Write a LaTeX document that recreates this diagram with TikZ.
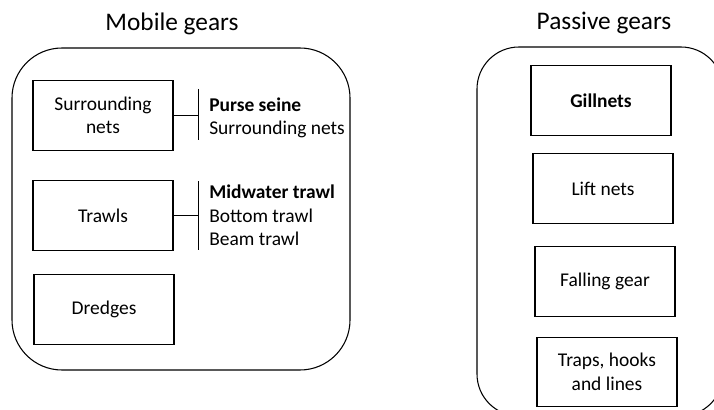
\documentclass[tikz,border=0pt]{standalone}
\usepackage{fontspec}
\setmainfont{Carlito}
\usetikzlibrary{positioning}

\tikzset{
  panel/.style={draw, line width=0.8pt, rounded corners=#1},
  gearbox/.style={draw, line width=0.95pt, minimum width=105pt, minimum height=52pt,
    align=center, inner sep=2pt, font=\fontsize{14.6}{17.6}\selectfont},
  gearlist/.style={anchor=west, align=left, inner sep=0pt, font=\fontsize{14.6}{17.6}\selectfont},
  heading/.style={anchor=base, inner sep=0pt, font=\fontsize{19}{22}\selectfont},
  link/.style={line width=0.75pt}
}

\begin{document}
\begin{tikzpicture}[x=0.75pt, y=-0.75pt]
            \useasboundingbox (0,0) rectangle (714,410);
            \clip (0,0) rectangle (714,410);
            \node[heading] (mobile) at (172,31) {Mobile gears};
            \node[heading] (passive) at (604,30) {Passive gears};
            \draw[panel=37.5pt] (12,48) rectangle (350,370);
            \draw[panel=31.5pt] (477,47) rectangle (723,416);
            \node[gearbox] (SN) at (103,115.5) {Surrounding\\nets};
            \node[gearbox] (TR) at (103,215.5) {Trawls};
            \node[gearbox] (DR) at (104,309.5) {Dredges};
            \node[gearbox] (GN) at (601,100.5) {\textbf{Gillnets}};
            \node[gearbox] (LN) at (603,188.5) {Lift nets};
            \node[gearbox] (FG) at (605,281.5) {Falling gear};
            \node[gearbox] (TH) at (607,372) {Traps, hooks\\and lines};
            \coordinate (SNtop) at (198,89);
            \coordinate (SNbot) at (198,140);
            \coordinate (TRtop) at (198,181);
            \coordinate (TRbot) at (198,250);
            \node[gearlist] (SNlist) at (209,118) {\textbf{Purse seine}\\Surrounding nets};
            \node[gearlist] (TRlist) at (209,215.5) {\textbf{Midwater trawl}\\Bottom trawl\\Beam trawl};
            \draw[link] (SNtop) -- (SNbot);
            \draw[link] (TRtop) -- (TRbot);
            \draw[link] (SN.east) -- (SN.east -| SNtop);
            \draw[link] (TR.east) -- (TR.east -| TRtop);
        \end{tikzpicture}
\end{document}
